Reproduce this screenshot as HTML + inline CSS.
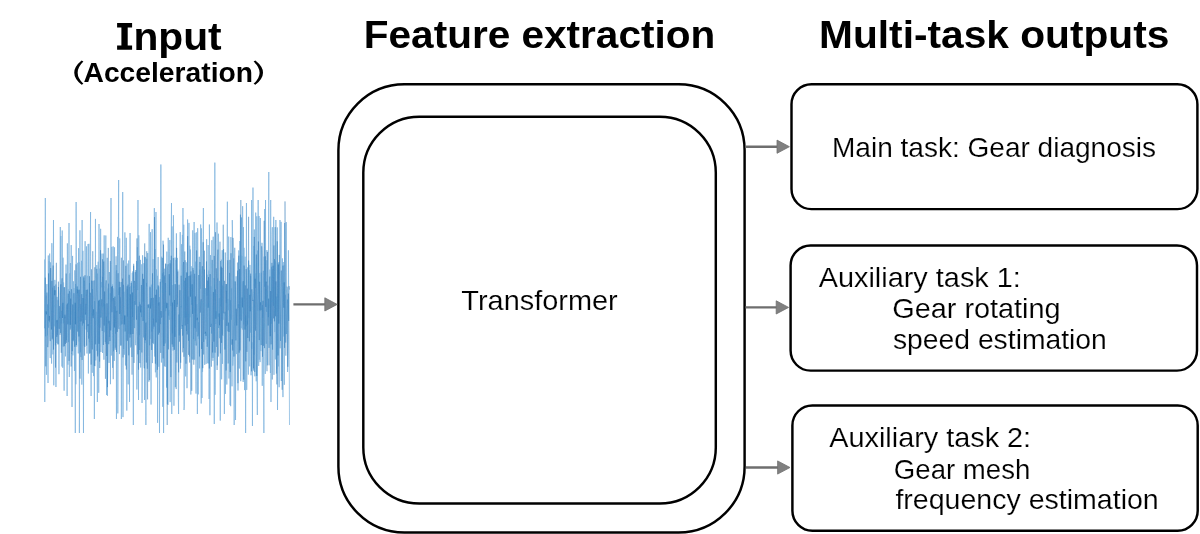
<!DOCTYPE html>
<html><head><meta charset="utf-8"><style>
html,body{margin:0;padding:0;background:#fff;width:1200px;height:534px;overflow:hidden;font-family:"Liberation Sans",sans-serif;}
svg{display:block;will-change:transform;}
</style></head><body>
<svg width="1200" height="534" viewBox="0 0 1200 534"><rect width="1200" height="534" fill="#fff"/><g font-family="Liberation Sans, sans-serif"><text x="133.41" y="49.80" font-size="38.5" font-weight="bold" textLength="88.29" lengthAdjust="spacingAndGlyphs" fill="#000">nput</text><text x="83.50" y="82.30" font-size="27.5" font-weight="bold" textLength="169.50" lengthAdjust="spacingAndGlyphs" fill="#000">Acceleration</text><text x="363.79" y="47.50" font-size="38.5" font-weight="bold" textLength="351.43" lengthAdjust="spacingAndGlyphs" fill="#000">Feature extraction</text><text x="819.08" y="47.50" font-size="38.5" font-weight="bold" textLength="350.29" lengthAdjust="spacingAndGlyphs" fill="#000">Multi-task outputs</text><text x="461.36" y="309.70" font-size="27.5" font-weight="normal" textLength="156.32" lengthAdjust="spacingAndGlyphs" fill="#000" stroke="#fff" stroke-width="0.15">Transformer</text><text x="832.00" y="157.00" font-size="27.5" font-weight="normal" textLength="324.01" lengthAdjust="spacingAndGlyphs" fill="#000" stroke="#fff" stroke-width="0.15">Main task: Gear diagnosis</text><text x="818.69" y="287.00" font-size="27.5" font-weight="normal" textLength="202.19" lengthAdjust="spacingAndGlyphs" fill="#000" stroke="#fff" stroke-width="0.15">Auxiliary task 1:</text><text x="892.30" y="317.50" font-size="27.5" font-weight="normal" textLength="168.31" lengthAdjust="spacingAndGlyphs" fill="#000" stroke="#fff" stroke-width="0.15">Gear rotating</text><text x="892.96" y="348.75" font-size="27.5" font-weight="normal" textLength="213.87" lengthAdjust="spacingAndGlyphs" fill="#000" stroke="#fff" stroke-width="0.15">speed estimation</text><text x="829.24" y="447.10" font-size="27.5" font-weight="normal" textLength="201.89" lengthAdjust="spacingAndGlyphs" fill="#000" stroke="#fff" stroke-width="0.15">Auxiliary task 2:</text><text x="893.86" y="479.00" font-size="27.5" font-weight="normal" textLength="136.43" lengthAdjust="spacingAndGlyphs" fill="#000" stroke="#fff" stroke-width="0.15">Gear mesh</text><text x="895.40" y="509.00" font-size="27.5" font-weight="normal" textLength="263.36" lengthAdjust="spacingAndGlyphs" fill="#000" stroke="#fff" stroke-width="0.15">frequency estimation</text></g><path d="M81.6,60.6 Q66.9,72.7 81.6,84.8 L83.4,83.8 Q71.9,72.7 83.4,61.6 Z M255.4,60.6 Q270.6,72.7 255.4,84.8 L253.6,83.8 Q265.6,72.7 253.6,61.6 Z" fill="#000"/><polygon points="117.1,23.1 132.1,23.1 132.1,27.4 127.7,27.4 127.7,45.6 132.1,45.6 132.1,49.8 117.1,49.8 117.1,45.6 121.4,45.6 121.4,27.4 117.1,27.4" fill="#000"/><g fill="none" stroke="#000" stroke-width="2.45"><rect x="338.4" y="84.3" width="406.2" height="448.2" rx="66" ry="66"/><rect x="363.3" y="116.7" width="352.5" height="386.9" rx="56" ry="56"/><rect x="791.5" y="84.3" width="405.9" height="124.8" rx="20" ry="20"/><rect x="790.6" y="245.5" width="406.4" height="125.1" rx="20" ry="20"/><rect x="792.4" y="405.4" width="405.3" height="125.3" rx="20" ry="20"/></g><line x1="293.4" y1="304.4" x2="325.8" y2="304.4" stroke="#6e6e6e" stroke-width="2.4"/><polygon points="324.8,297.79999999999995 337.20000000000005,304.4 324.8,311.0" fill="#808080" stroke="#707070" stroke-width="0.8" stroke-linejoin="miter"/><line x1="745.5" y1="146.7" x2="778.0" y2="146.7" stroke="#6e6e6e" stroke-width="2.4"/><polygon points="777.0,140.1 789.4,146.7 777.0,153.29999999999998" fill="#808080" stroke="#707070" stroke-width="0.8" stroke-linejoin="miter"/><line x1="745.5" y1="307.4" x2="777.2" y2="307.4" stroke="#6e6e6e" stroke-width="2.4"/><polygon points="776.2,300.79999999999995 788.6,307.4 776.2,314.0" fill="#808080" stroke="#707070" stroke-width="0.8" stroke-linejoin="miter"/><line x1="746.0" y1="467.5" x2="778.6" y2="467.5" stroke="#6e6e6e" stroke-width="2.4"/><polygon points="777.6,460.9 790.0,467.5 777.6,474.1" fill="#808080" stroke="#707070" stroke-width="0.8" stroke-linejoin="miter"/><defs><filter id="wb" x="-5%" y="-5%" width="110%" height="110%"><feGaussianBlur stdDeviation="0.35 0"/></filter></defs><g filter="url(#wb)" fill="none" stroke="#78b0dc" stroke-width="0.7" stroke-opacity="1" stroke-linejoin="round"><polyline points="44.50,259.4 44.77,402.0 45.05,346.8 45.32,198.0 45.59,336.3 45.86,306.4 46.14,295.7 46.41,374.8 46.68,288.0 46.95,284.1 47.23,335.4 47.50,304.3 47.77,348.7 48.04,383.0 48.32,255.5 48.59,327.7 48.86,305.0 49.13,261.0 49.41,322.2 49.68,253.6 49.95,345.9 50.22,358.1 50.50,262.4 50.77,274.5 51.04,305.5 51.31,312.0 51.59,363.6 51.86,243.2 52.13,283.8 52.40,337.9 52.68,287.7 52.95,354.4 53.22,284.2 53.49,220.0 53.77,385.3 54.04,307.2 54.31,290.0 54.58,326.3 54.86,279.9 55.13,329.4 55.40,345.4 55.67,284.5 55.95,387.0 56.22,330.4 56.49,320.4 56.76,343.0 57.04,296.9 57.31,318.0 57.58,335.2 57.85,299.8 58.13,344.2 58.40,287.0 58.67,294.1 58.94,374.2 59.22,318.2 59.49,318.1 59.76,311.0 60.03,286.9 60.31,227.0 60.58,332.9 60.85,236.0 61.12,323.5 61.40,310.9 61.67,338.8 61.94,366.5 62.21,230.5 62.49,303.4 62.76,367.8 63.03,257.7 63.30,323.3 63.58,282.4 63.85,316.9 64.12,390.7 64.39,287.8 64.67,287.0 64.94,318.3 65.21,316.7 65.48,356.4 65.76,310.3 66.03,264.6 66.30,340.2 66.57,309.6 66.85,304.7 67.12,396.0 67.39,243.4 67.66,353.7 67.94,364.7 68.21,289.2 68.48,342.1 68.75,273.8 69.03,223.0 69.30,377.0 69.57,292.3 69.84,273.3 70.12,329.7 70.39,263.0 70.66,328.5 70.93,295.1 71.21,245.1 71.48,353.7 71.75,352.9 72.03,407.0 72.30,313.3 72.57,255.9 72.84,355.4 73.12,342.9 73.39,281.3 73.66,341.3 73.93,288.1 74.21,300.6 74.48,371.0 74.75,270.4 75.02,283.1 75.30,433.0 75.57,284.0 75.84,384.3 76.11,202.0 76.39,270.9 76.66,346.6 76.93,305.0 77.20,289.0 77.48,293.2 77.75,262.8 78.02,318.3 78.29,353.4 78.57,248.1 78.84,341.6 79.11,262.2 79.38,433.0 79.66,367.0 79.93,230.3 80.20,334.7 80.47,352.3 80.75,304.1 81.02,357.1 81.29,270.0 81.56,260.8 81.84,384.6 82.11,220.0 82.38,325.5 82.65,290.0 82.93,250.8 83.20,344.9 83.47,433.0 83.74,276.1 84.02,345.8 84.29,280.6 84.56,330.0 84.83,346.9 85.11,241.2 85.38,320.1 85.65,317.3 85.92,303.8 86.20,329.6 86.47,246.4 86.74,324.9 87.01,353.5 87.29,275.8 87.56,332.1 87.83,325.0 88.10,244.0 88.38,373.5 88.65,300.1 88.92,243.8 89.19,342.3 89.47,283.1 89.74,353.7 90.01,324.9 90.28,256.5 90.56,212.0 90.83,321.0 91.10,396.0 91.37,324.7 91.65,280.6 91.92,297.3 92.19,372.8 92.46,289.0 92.74,315.8 93.01,281.0 93.28,296.8 93.55,376.1 93.83,295.0 94.10,280.4 94.37,419.0 94.64,301.1 94.92,366.2 95.19,313.2 95.46,218.9 95.73,360.4 96.01,341.1 96.28,311.8 96.55,350.7 96.82,265.1 97.10,339.9 97.37,402.0 97.64,273.5 97.91,354.5 98.19,261.7 98.46,314.4 98.73,392.8 99.01,224.0 99.28,322.0 99.55,361.5 99.82,268.6 100.10,327.7 100.37,325.1 100.64,228.8 100.91,352.0 101.19,335.1 101.46,282.0 101.73,287.4 102.00,253.6 102.28,339.9 102.55,353.0 102.82,276.8 103.09,306.5 103.37,253.6 103.64,306.7 103.91,359.7 104.18,235.4 104.46,301.0 104.73,332.3 105.00,304.2 105.27,342.0 105.55,279.3 105.82,235.5 106.09,343.8 106.36,316.7 106.64,395.0 106.91,328.4 107.18,257.8 107.45,395.8 107.73,319.8 108.00,288.6 108.27,323.4 108.54,283.7 108.82,292.6 109.09,362.9 109.36,272.0 109.63,298.0 109.91,337.0 110.18,293.2 110.45,384.2 110.72,278.0 111.00,198.0 111.27,355.6 111.54,264.5 111.81,246.9 112.09,301.4 112.36,284.4 112.63,367.8 112.90,311.6 113.18,246.4 113.45,351.2 113.72,288.3 113.99,334.9 114.27,360.9 114.54,247.3 114.81,327.9 115.08,347.7 115.36,306.3 115.63,333.6 115.90,276.9 116.17,265.1 116.45,419.0 116.72,270.3 116.99,311.5 117.26,305.0 117.54,236.9 117.81,413.4 118.08,352.4 118.35,254.4 118.63,180.0 118.90,295.0 119.17,287.5 119.44,354.1 119.72,238.4 119.99,325.5 120.26,312.3 120.53,297.4 120.81,345.5 121.08,282.0 121.35,419.0 121.62,377.3 121.90,320.6 122.17,302.4 122.44,291.1 122.71,192.0 122.99,417.1 123.26,325.8 123.53,284.8 123.80,349.0 124.08,291.8 124.35,354.7 124.62,328.1 124.89,232.4 125.17,338.6 125.44,365.5 125.71,315.6 125.98,340.6 126.26,237.8 126.53,298.4 126.80,410.6 127.08,289.1 127.35,316.6 127.62,288.0 127.89,263.5 128.17,384.4 128.44,307.1 128.71,260.5 128.98,333.9 129.26,287.1 129.53,402.0 129.80,282.5 130.07,233.0 130.35,332.3 130.62,347.5 130.89,286.2 131.16,346.5 131.44,281.3 131.71,322.6 131.98,357.0 132.25,272.9 132.53,317.0 132.80,271.4 133.07,310.3 133.34,425.0 133.62,265.8 133.89,271.7 134.16,319.9 134.43,301.1 134.71,328.1 134.98,276.7 135.25,272.1 135.52,343.5 135.80,345.2 136.07,336.1 136.34,331.8 136.61,261.0 136.89,389.5 137.16,356.5 137.43,247.2 137.70,290.1 137.98,200.0 138.25,345.2 138.52,400.0 138.79,235.3 139.07,267.2 139.34,335.1 139.61,301.9 139.88,350.0 140.16,290.8 140.43,259.9 140.70,367.5 140.97,311.2 141.25,305.9 141.52,317.1 141.79,264.3 142.06,403.0 142.34,361.3 142.61,255.3 142.88,286.9 143.15,301.5 143.43,279.1 143.70,337.4 143.97,263.2 144.24,315.2 144.52,400.0 144.79,256.8 145.06,343.1 145.33,257.3 145.61,280.8 145.88,425.0 146.15,306.1 146.42,283.0 146.70,286.4 146.97,258.7 147.24,368.7 147.51,305.9 147.79,253.0 148.06,304.6 148.33,319.1 148.60,356.6 148.88,381.7 149.15,223.9 149.42,325.9 149.69,345.3 149.97,285.9 150.24,338.9 150.51,232.2 150.78,248.9 151.06,404.5 151.33,284.6 151.60,306.2 151.87,331.6 152.15,229.2 152.42,363.1 152.69,318.4 152.96,259.1 153.24,328.9 153.51,318.6 153.78,344.1 154.06,314.2 154.33,208.1 154.60,348.9 154.87,356.6 155.15,249.0 155.42,372.3 155.69,268.6 155.96,212.0 156.24,377.4 156.51,269.4 156.78,276.8 157.05,364.7 157.33,275.8 157.60,422.8 157.87,280.4 158.14,257.1 158.42,305.5 158.69,286.5 158.96,366.8 159.23,297.1 159.51,433.0 159.78,354.5 160.05,316.0 160.32,279.0 160.60,324.1 160.87,164.5 161.14,305.4 161.41,362.5 161.69,256.7 161.96,282.4 162.23,273.4 162.50,289.9 162.78,406.8 163.05,240.7 163.32,260.4 163.59,433.0 163.87,272.2 164.14,366.1 164.41,298.1 164.68,268.7 164.96,343.5 165.23,341.6 165.50,283.0 165.77,311.1 166.05,264.1 166.32,332.1 166.59,387.6 166.86,251.6 167.14,286.1 167.41,404.0 167.68,303.2 167.95,404.9 168.23,237.8 168.50,270.1 168.77,315.6 169.04,309.9 169.32,319.8 169.59,251.7 169.86,240.0 170.13,402.1 170.41,284.9 170.68,260.2 170.95,306.1 171.22,225.5 171.50,203.0 171.77,414.0 172.04,226.4 172.31,333.3 172.59,285.1 172.86,322.4 173.13,350.7 173.40,215.2 173.68,240.6 173.95,405.7 174.22,284.1 174.49,349.7 174.77,280.7 175.04,257.6 175.31,387.2 175.58,354.9 175.86,260.0 176.13,282.0 176.40,233.4 176.67,333.0 176.95,362.5 177.22,257.9 177.49,304.4 177.76,269.6 178.04,311.6 178.31,397.2 178.58,414.0 178.85,314.6 179.13,335.4 179.40,314.0 179.67,314.1 179.94,263.2 180.22,232.1 180.49,368.6 180.76,327.7 181.04,306.0 181.31,307.4 181.58,244.2 181.85,329.0 182.13,315.9 182.40,234.9 182.67,335.6 182.94,208.0 183.22,299.0 183.49,348.1 183.76,224.7 184.03,410.0 184.31,406.3 184.58,280.8 184.85,317.7 185.12,260.3 185.40,271.6 185.67,376.4 185.94,276.5 186.21,262.3 186.49,331.0 186.76,271.9 187.03,388.2 187.30,300.9 187.58,219.5 187.85,324.1 188.12,296.5 188.39,317.3 188.67,340.8 188.94,222.9 189.21,304.6 189.48,356.4 189.76,245.7 190.03,317.3 190.30,249.5 190.57,253.0 190.85,394.5 191.12,266.2 191.39,289.2 191.66,304.8 191.94,274.5 192.21,359.3 192.48,278.4 192.75,230.3 193.03,359.6 193.30,270.0 193.57,339.1 193.84,323.1 194.12,222.0 194.39,345.6 194.66,359.6 194.93,233.1 195.21,340.7 195.48,261.6 195.75,330.6 196.02,393.6 196.30,232.3 196.57,293.9 196.84,331.7 197.11,304.1 197.39,414.0 197.66,228.2 197.93,269.0 198.20,394.4 198.48,322.2 198.75,339.2 199.02,265.6 199.29,256.8 199.57,368.4 199.84,269.6 200.11,281.3 200.38,288.6 200.66,224.5 200.93,324.0 201.20,403.5 201.47,228.4 201.75,316.8 202.02,398.0 202.29,341.8 202.56,371.8 202.84,244.1 203.11,238.5 203.38,208.0 203.65,302.6 203.93,342.0 204.20,294.7 204.47,269.6 204.74,364.9 205.02,317.1 205.29,288.4 205.56,339.3 205.83,288.3 206.11,363.9 206.38,347.5 206.65,239.2 206.92,295.8 207.20,274.7 207.47,323.0 207.74,363.3 208.02,245.3 208.29,245.0 208.56,363.4 208.83,270.7 209.11,399.0 209.38,224.5 209.65,250.6 209.92,415.2 210.20,311.4 210.47,255.1 210.74,323.8 211.01,286.3 211.29,294.9 211.56,333.5 211.83,240.2 212.10,350.4 212.38,357.9 212.65,341.9 212.92,360.8 213.19,236.7 213.47,326.9 213.74,357.9 214.01,278.0 214.28,424.0 214.56,322.8 214.83,162.6 215.10,394.8 215.37,289.3 215.65,307.0 215.92,324.0 216.19,311.1 216.46,346.9 216.74,311.9 217.01,222.5 217.28,365.4 217.55,339.1 217.83,278.4 218.10,316.8 218.37,233.7 218.64,310.2 218.92,328.0 219.19,298.2 219.46,338.2 219.73,281.0 220.01,281.0 220.28,420.6 220.55,261.0 220.82,306.4 221.10,303.0 221.37,259.7 221.64,379.3 221.91,278.7 222.19,250.2 222.46,363.9 222.73,285.5 223.00,319.8 223.28,317.6 223.55,249.1 223.82,329.9 224.09,346.5 224.37,414.0 224.64,381.0 224.91,316.8 225.18,311.8 225.46,393.9 225.73,289.8 226.00,284.0 226.27,302.9 226.55,290.9 226.82,384.5 227.09,256.3 227.36,201.7 227.64,331.3 227.91,319.8 228.18,299.0 228.45,310.2 228.73,236.6 229.00,378.5 229.27,336.7 229.54,272.9 229.82,302.1 230.09,405.0 230.36,300.2 230.63,406.2 230.91,237.1 231.18,279.4 231.45,319.8 231.72,288.2 232.00,386.3 232.27,220.1 232.54,231.1 232.81,365.6 233.09,359.5 233.36,341.6 233.63,299.6 233.90,258.4 234.18,425.0 234.45,323.8 234.72,247.8 234.99,356.2 235.27,281.6 235.54,420.0 235.81,350.4 236.09,276.3 236.36,354.1 236.63,343.1 236.90,315.5 237.18,310.3 237.45,262.6 237.72,269.4 237.99,390.5 238.27,304.2 238.54,307.9 238.81,250.4 239.08,262.0 239.36,368.5 239.63,303.7 239.90,241.0 240.17,319.3 240.45,214.7 240.72,381.2 240.99,352.3 241.26,250.1 241.54,217.5 241.81,328.2 242.08,255.8 242.35,329.6 242.63,206.2 242.90,280.8 243.17,382.0 243.44,227.1 243.72,324.5 243.99,247.8 244.26,274.6 244.53,390.1 244.81,285.3 245.08,256.7 245.35,317.3 245.62,433.0 245.90,315.6 246.17,326.2 246.44,203.0 246.71,389.9 246.99,357.8 247.26,320.6 247.53,324.5 247.80,267.4 248.08,312.1 248.35,374.6 248.62,260.6 248.89,318.2 249.17,270.2 249.44,280.5 249.71,366.4 249.98,264.9 250.26,321.5 250.53,332.6 250.80,275.8 251.07,375.3 251.35,325.3 251.62,200.0 251.89,348.9 252.16,342.4 252.44,426.0 252.71,333.8 252.98,187.6 253.25,316.2 253.53,370.5 253.80,245.9 254.07,354.7 254.34,229.5 254.62,281.3 254.89,376.3 255.16,273.3 255.43,288.1 255.71,212.6 255.98,246.2 256.25,381.3 256.52,281.2 256.80,216.3 257.07,380.4 257.34,415.0 257.61,250.5 257.89,310.9 258.16,200.0 258.43,335.1 258.70,365.9 258.98,216.0 259.25,359.6 259.52,273.2 259.79,274.2 260.07,362.1 260.34,218.0 260.61,254.0 260.88,351.1 261.16,272.7 261.43,310.1 261.70,289.1 261.97,242.8 262.25,385.8 262.52,305.1 262.79,318.1 263.07,311.9 263.34,270.8 263.61,377.7 263.88,433.0 264.16,256.6 264.43,286.7 264.70,209.0 264.97,319.1 265.25,373.9 265.52,200.0 265.79,340.1 266.06,343.8 266.34,260.3 266.61,311.8 266.88,250.1 267.15,259.4 267.43,365.3 267.70,293.7 267.97,285.6 268.24,317.2 268.52,231.2 268.79,172.0 269.06,347.9 269.33,308.7 269.61,303.0 269.88,269.6 270.15,314.9 270.42,373.0 270.70,200.0 270.97,402.0 271.24,339.5 271.51,266.8 271.79,323.8 272.06,234.4 272.33,227.2 272.60,349.6 272.88,269.0 273.15,305.9 273.42,292.8 273.69,216.8 273.97,374.8 274.24,323.8 274.51,259.1 274.78,332.1 275.06,261.3 275.33,359.4 275.60,321.3 275.87,220.0 276.15,311.3 276.42,373.5 276.69,296.6 276.96,369.2 277.24,227.4 277.51,410.0 277.78,368.9 278.05,263.2 278.33,366.4 278.60,312.9 278.87,262.1 279.14,387.2 279.42,291.9 279.69,280.4 279.96,220.0 280.23,241.8 280.51,341.0 280.78,318.0 281.05,221.9 281.32,381.0 281.60,339.0 281.87,310.3 282.14,304.0 282.41,258.4 282.69,372.6 282.96,397.1 283.23,262.0 283.50,310.7 283.78,336.5 284.05,264.9 284.32,384.8 284.59,223.0 284.87,277.3 285.14,334.4 285.41,294.8 285.68,342.5 285.96,302.7 286.23,222.1 286.50,334.0 286.77,321.9 287.05,310.4 287.32,299.6 287.59,372.0 287.86,355.2 288.14,339.8 288.41,250.3 288.68,284.9 288.95,319.4 289.23,359.4 289.50,425.0"/></g><polyline points="44.50,328.3 44.91,292.4 45.32,277.7 45.73,366.3 46.14,311.4 46.55,314.4 46.95,292.6 47.36,308.3 47.77,347.1 48.18,341.8 48.59,273.4 49.00,320.6 49.41,316.0 49.82,335.1 50.23,341.1 50.64,268.1 51.04,322.9 51.45,329.5 51.86,280.9 52.27,339.4 52.68,280.1 53.09,265.5 53.50,349.6 53.91,296.9 54.32,285.9 54.73,295.2 55.13,290.2 55.54,367.6 55.95,317.7 56.36,262.8 56.77,336.9 57.18,319.9 57.59,322.3 58.00,344.4 58.41,281.6 58.82,319.8 59.22,328.9 59.63,306.1 60.04,334.8 60.45,301.5 60.86,284.3 61.27,352.8 61.68,282.1 62.09,278.3 62.50,318.0 62.91,302.8 63.31,346.5 63.72,330.5 64.13,287.4 64.54,346.2 64.95,314.7 65.36,343.9 65.77,306.8 66.18,273.5 66.59,342.8 67.00,310.8 67.40,303.5 67.81,324.4 68.22,293.7 68.63,307.6 69.04,360.9 69.45,291.2 69.86,293.5 70.27,324.8 70.68,298.6 71.09,366.5 71.49,289.2 71.90,295.2 72.31,351.2 72.72,304.5 73.13,340.5 73.54,337.7 73.95,293.2 74.36,319.1 74.77,346.8 75.18,302.8 75.59,324.3 75.99,264.3 76.40,345.0 76.81,336.6 77.22,286.4 77.63,331.6 78.04,289.8 78.45,300.9 78.86,336.5 79.27,289.7 79.68,308.5 80.08,378.7 80.49,276.8 80.90,321.5 81.31,320.1 81.72,294.2 82.13,360.0 82.54,313.6 82.95,298.0 83.36,323.4 83.77,277.4 84.17,323.3 84.58,355.6 84.99,275.2 85.40,314.6 85.81,311.7 86.22,289.9 86.63,345.7 87.04,295.1 87.45,289.6 87.86,326.1 88.26,324.2 88.67,338.6 89.08,334.9 89.49,276.2 89.90,353.3 90.31,292.8 90.72,313.6 91.13,364.6 91.54,269.3 91.95,333.2 92.35,349.4 92.76,251.2 93.17,318.1 93.58,309.3 93.99,318.3 94.40,365.9 94.81,267.3 95.22,318.4 95.63,344.3 96.04,304.1 96.44,292.7 96.85,268.9 97.26,297.1 97.67,356.4 98.08,316.0 98.49,300.7 98.90,343.8 99.31,299.9 99.72,368.0 100.13,326.0 100.54,250.2 100.94,317.5 101.35,306.2 101.76,299.2 102.17,330.9 102.58,259.3 102.99,319.2 103.40,345.0 103.81,261.5 104.22,325.6 104.63,291.5 105.03,312.5 105.44,378.8 105.85,284.0 106.26,280.4 106.67,356.0 107.08,303.4 107.49,387.1 107.90,351.7 108.31,247.9 108.72,344.2 109.12,320.9 109.53,330.2 109.94,341.0 110.35,261.1 110.76,330.4 111.17,321.6 111.58,286.8 111.99,312.2 112.40,286.1 112.81,297.0 113.21,379.2 113.62,298.0 114.03,301.4 114.44,327.5 114.85,296.6 115.26,349.8 115.67,298.6 116.08,256.3 116.49,352.0 116.90,310.8 117.30,331.9 117.71,299.1 118.12,273.2 118.53,326.4 118.94,329.1 119.35,281.8 119.76,314.0 120.17,287.1 120.58,306.3 120.99,345.5 121.39,257.7 121.80,324.4 122.21,323.5 122.62,278.6 123.03,357.4 123.44,260.4 123.85,303.2 124.26,324.4 124.67,315.5 125.08,331.5 125.48,287.5 125.89,265.8 126.30,369.5 126.71,342.5 127.12,286.2 127.53,340.8 127.94,284.6 128.35,333.4 128.76,355.3 129.17,274.8 129.58,290.7 129.98,337.7 130.39,294.3 130.80,334.4 131.21,283.0 131.62,311.0 132.03,374.7 132.44,292.5 132.85,334.0 133.26,297.0 133.67,263.8 134.07,362.9 134.48,280.9 134.89,282.4 135.30,304.8 135.71,270.1 136.12,309.7 136.53,319.7 136.94,238.4 137.35,331.7 137.76,354.3 138.16,306.3 138.57,369.7 138.98,261.3 139.39,255.7 139.80,363.1 140.21,304.4 140.62,312.4 141.03,303.9 141.44,285.0 141.85,352.5 142.25,283.7 142.66,273.8 143.07,321.0 143.48,278.8 143.89,363.4 144.30,368.3 144.71,243.4 145.12,339.2 145.53,340.3 145.94,322.6 146.34,362.6 146.75,251.2 147.16,318.6 147.57,399.4 147.98,304.7 148.39,307.8 148.80,304.2 149.21,308.3 149.62,380.1 150.03,287.2 150.43,308.6 150.84,302.7 151.25,298.1 151.66,350.0 152.07,299.1 152.48,273.3 152.89,342.9 153.30,297.8 153.71,322.0 154.12,326.6 154.53,217.1 154.93,305.5 155.34,363.6 155.75,294.8 156.16,322.5 156.57,289.6 156.98,304.5 157.39,369.8 157.80,307.1 158.21,285.4 158.62,334.6 159.02,302.4 159.43,332.8 159.84,293.7 160.25,281.8 160.66,352.9 161.07,311.1 161.48,317.5 161.89,317.2 162.30,257.9 162.71,320.1 163.11,358.4 163.52,244.6 163.93,346.0 164.34,276.3 164.75,275.5 165.16,366.8 165.57,263.5 165.98,291.5 166.39,308.2 166.80,302.8 167.20,425.0 167.61,267.8 168.02,264.2 168.43,349.4 168.84,315.2 169.25,274.2 169.66,295.4 170.07,263.4 170.48,346.1 170.89,377.1 171.29,255.8 171.70,324.6 172.11,344.4 172.52,302.5 172.93,346.9 173.34,258.1 173.75,295.9 174.16,349.8 174.57,300.0 174.98,336.9 175.38,284.2 175.79,320.0 176.20,389.1 176.61,247.9 177.02,307.0 177.43,293.1 177.84,271.5 178.25,355.2 178.66,372.3 179.07,284.7 179.47,341.7 179.88,290.1 180.29,327.1 180.70,362.7 181.11,275.7 181.52,318.2 181.93,326.2 182.34,325.3 182.75,352.3 183.16,266.8 183.57,262.0 183.97,356.8 184.38,283.0 184.79,251.5 185.20,325.5 185.61,277.9 186.02,363.7 186.43,340.8 186.84,272.6 187.25,334.5 187.66,236.2 188.06,331.3 188.47,354.9 188.88,276.0 189.29,357.6 189.70,362.6 190.11,275.4 190.52,296.7 190.93,271.4 191.34,293.1 191.75,390.8 192.15,284.3 192.56,313.9 192.97,267.9 193.38,284.9 193.79,364.7 194.20,311.1 194.61,273.8 195.02,328.2 195.43,296.4 195.84,341.8 196.24,345.6 196.65,250.4 197.06,320.2 197.47,317.7 197.88,336.3 198.29,333.7 198.70,275.0 199.11,316.3 199.52,356.5 199.93,262.0 200.33,312.6 200.74,301.4 201.15,299.3 201.56,349.0 201.97,275.6 202.38,266.2 202.79,368.2 203.20,242.2 203.61,354.5 204.02,303.5 204.42,250.7 204.83,333.6 205.24,332.9 205.65,331.8 206.06,336.0 206.47,261.4 206.88,331.3 207.29,346.8 207.70,280.6 208.11,307.7 208.52,277.1 208.92,296.5 209.33,368.5 209.74,289.1 210.15,274.1 210.56,327.0 210.97,323.8 211.38,366.7 211.79,327.0 212.20,259.9 212.61,352.5 213.01,309.7 213.42,292.1 213.83,341.6 214.24,255.9 214.65,306.7 215.06,352.6 215.47,232.2 215.88,318.7 216.29,268.3 216.70,281.2 217.10,370.0 217.51,258.4 217.92,249.6 218.33,356.6 218.74,339.4 219.15,313.5 219.56,325.3 219.97,241.7 220.38,353.4 220.79,306.1 221.19,266.6 221.60,342.9 222.01,267.9 222.42,334.5 222.83,335.6 223.24,224.7 223.65,312.2 224.06,313.5 224.47,280.8 224.88,349.6 225.28,252.5 225.69,318.0 226.10,370.5 226.51,284.1 226.92,325.9 227.33,285.3 227.74,260.3 228.15,363.5 228.56,322.6 228.97,332.0 229.37,316.2 229.78,259.9 230.19,372.1 230.60,287.6 231.01,253.3 231.42,302.5 231.83,344.7 232.24,339.3 232.65,350.5 233.06,237.9 233.46,256.3 233.87,356.6 234.28,326.9 234.69,321.8 235.10,281.4 235.51,296.9 235.92,340.4 236.33,308.7 236.74,325.5 237.15,311.8 237.56,270.6 237.96,383.2 238.37,279.2 238.78,255.7 239.19,352.7 239.60,269.1 240.01,350.4 240.42,325.9 240.83,200.0 241.24,320.7 241.65,318.6 242.05,297.5 242.46,307.4 242.87,283.1 243.28,281.2 243.69,379.6 244.10,265.5 244.51,292.0 244.92,329.6 245.33,285.4 245.74,361.4 246.14,269.1 246.55,281.2 246.96,351.9 247.37,288.6 247.78,338.0 248.19,299.5 248.60,216.8 249.01,319.2 249.42,341.4 249.83,294.8 250.23,311.3 250.64,273.6 251.05,328.4 251.46,371.4 251.87,289.3 252.28,295.9 252.69,300.9 253.10,299.9 253.51,368.4 253.92,296.3 254.32,236.9 254.73,371.9 255.14,278.6 255.55,330.7 255.96,278.8 256.37,254.6 256.78,375.9 257.19,349.1 257.60,303.9 258.01,289.4 258.41,241.5 258.82,316.6 259.23,340.1 259.64,281.8 260.05,310.5 260.46,302.3 260.87,308.9 261.28,345.1 261.69,246.3 262.10,254.0 262.51,356.8 262.91,300.8 263.32,345.8 263.73,317.8 264.14,220.8 264.55,348.1 264.96,320.1 265.37,256.3 265.78,306.9 266.19,281.6 266.60,362.3 267.00,371.2 267.41,251.9 267.82,308.3 268.23,325.5 268.64,298.6 269.05,365.3 269.46,281.2 269.87,276.6 270.28,336.2 270.69,291.0 271.09,344.3 271.50,294.4 271.91,262.9 272.32,379.5 272.73,272.2 273.14,265.7 273.55,318.4 273.96,245.4 274.37,321.4 274.78,309.5 275.18,227.1 275.59,316.3 276.00,281.3 276.41,317.6 276.82,384.4 277.23,241.3 277.64,324.7 278.05,355.5 278.46,264.5 278.87,323.6 279.27,254.9 279.68,288.3 280.09,348.3 280.50,321.2 280.91,296.4 281.32,270.5 281.73,287.4 282.14,389.8 282.55,302.8 282.96,265.7 283.36,290.2 283.77,307.7 284.18,282.4 284.59,347.9 285.00,201.4 285.41,257.3 285.82,355.7 286.23,332.2 286.64,313.2 287.05,286.7 287.45,288.5 287.86,366.8 288.27,293.6 288.68,320.9 289.09,286.1 289.50,289.6" fill="none" stroke="#1f6fb0" stroke-width="0.35" stroke-opacity="1" filter="url(#wb)"/></svg>
</body></html>
